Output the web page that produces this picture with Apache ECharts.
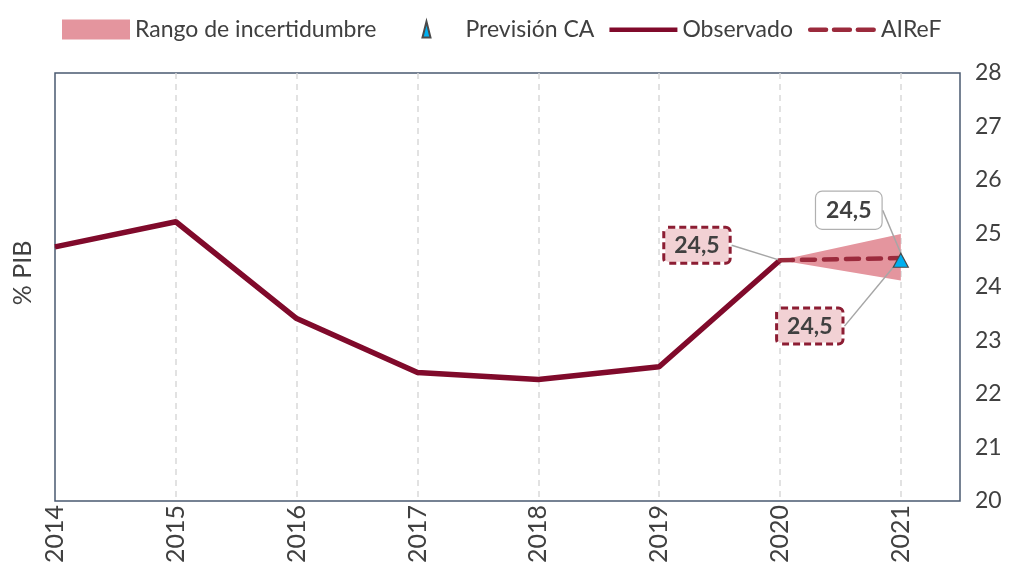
<!DOCTYPE html>
<html>
<head>
<meta charset="utf-8">
<script src="https://cdn.jsdelivr.net/npm/echarts@6/dist/echarts.min.js"></script>
<style>
  html, body { margin: 0; padding: 0; background: #fff; }
  #chart { width: 1015px; height: 571px; }
</style>
</head>
<body>
<div id="chart"></div>
<script>
// datos
const years = [2014, 2015, 2016, 2017, 2018, 2019, 2020, 2021];
const observado = [24.75, 25.22, 23.41, 22.40, 22.27, 22.51, 24.5];   // 2014-2020
const airef = [24.5, 24.54];                                           // 2020-2021
const rangoInf = [24.5, 24.12];                                        // 2020-2021
const rangoSup = [24.5, 24.99];
const prevision = [24.5];                                              // 2021
const yTicks = [20, 21, 22, 23, 24, 25, 26, 27, 28];

const FONT = 'Lato';
const TXT = '#404040';
const fmt = v => v.toFixed(1).replace('.', ',');

const boxLabel = {
  show: true,
  position: 'inside',
  formatter: p => fmt(p.value[1]),
  fontFamily: FONT,
  fontWeight: 'bold',
  fontSize: 23,
  color: TXT,
  backgroundColor: '#f2d1d4',
  borderColor: '#8c1d33',
  borderWidth: 3,
  borderType: [7, 4],
  borderRadius: 3,
  padding: [6, 9, 4, 9]
};
const guide = { show: true, lineStyle: { color: '#a6a6a6', width: 1.5 } };

const obsData = observado.map((v, i) => {
  const d = { value: [years[i], v] };
  if (i === observado.length - 1) d.label = boxLabel;
  return d;
});
const airefData = airef.map((v, i) => {
  const d = { value: [years[6 + i], v] };
  if (i === 1) d.label = boxLabel;
  return d;
});
// un tramo de banda: [x0, inf0, sup0, x1, inf1, sup1]
const bandData = [[years[6], rangoInf[0], rangoSup[0], years[7], rangoInf[1], rangoSup[1]]];

// iconos de leyenda (los M iniciales fijan la caja 68x20)
const iconLine = 'path://M0,0 M68,20 M0,8 h68 v4.5 h-68 z';
const iconDash = 'path://M0,0 M68,20 M2,8 h16 a2.2,2.2 0 0 1 0,4.5 h-16 a2.2,2.2 0 0 1 0,-4.5 z M26,8 h16 a2.2,2.2 0 0 1 0,4.5 h-16 a2.2,2.2 0 0 1 0,-4.5 z M50,8 h16 a2.2,2.2 0 0 1 0,4.5 h-16 a2.2,2.2 0 0 1 0,-4.5 z';
const iconTri = 'path://M0,0 M68,20 M30,18 L34,2 L38,18 z';

const chart = echarts.init(document.getElementById('chart'));
chart.setOption({
  animation: false,
  legend: {
    left: 57, top: 13,
    itemWidth: 68, itemHeight: 20, itemGap: 15,
    textStyle: { fontFamily: FONT, fontSize: 23, color: TXT },
    data: [
      { name: 'Rango de incertidumbre', icon: 'rect' },
      { name: 'Previsión CA', icon: iconTri },
      { name: 'Observado', icon: iconLine },
      { name: 'AIReF', icon: iconDash }
    ]
  },
  graphic: [{
    type: 'text', x: 23, y: 273, rotation: Math.PI / 2,
    style: { text: '% PIB', fontFamily: FONT, fontSize: 25, fill: TXT, align: 'center', verticalAlign: 'middle' }
  }],
  grid: {
    left: 55, right: 55, top: 73, bottom: 70,
    show: true, borderColor: '#4a5a70', borderWidth: 1.5
  },
  xAxis: {
    type: 'value', min: years[0], max: 2021.49, interval: 1,
    axisLine: { show: false }, axisTick: { show: false },
    splitLine: {
      show: true, showMinLine: false, showMaxLine: false,
      lineStyle: { color: '#d9d9d9', width: 1.5, type: [6, 5] }
    },
    axisLabel: {
      rotate: 90, margin: 4,
      fontFamily: FONT, fontSize: 25, color: TXT,
      formatter: v => Number.isInteger(v) ? String(v) : ''
    }
  },
  yAxis: {
    type: 'value', position: 'right',
    min: yTicks[0], max: yTicks[yTicks.length - 1], interval: 1,
    axisLine: { show: false }, axisTick: { show: false }, splitLine: { show: false },
    axisLabel: { margin: 15, fontFamily: FONT, fontSize: 23, color: TXT }
  },
  series: [
    {
      name: 'Rango de incertidumbre', type: 'custom',
      data: bandData,
      itemStyle: { color: '#e4959e' },
      renderItem: (params, api) => {
        const a = api.coord([api.value(0), api.value(1)]);
        const b = api.coord([api.value(3), api.value(4)]);
        const c = api.coord([api.value(3), api.value(5)]);
        const d = api.coord([api.value(0), api.value(2)]);
        return {
          type: 'polygon',
          shape: { points: [a, b, c, d] },
          style: { fill: '#e4959e' }
        };
      },
      z: 1
    },
    {
      name: 'Observado', type: 'line', color: '#800a2b',
      data: obsData,
      symbol: 'circle', symbolSize: 1,
      lineStyle: { width: 5.5, color: '#800a2b' },
      label: { show: false },
      labelLine: guide,
      labelLayout: { dx: -83, dy: -15 },
      z: 3
    },
    {
      name: 'AIReF', type: 'line', color: '#9b2a3c',
      data: airefData,
      symbol: 'circle', symbolSize: 1,
      lineStyle: { width: 4.5, type: [13, 9], cap: 'round', color: '#9b2a3c' },
      label: { show: false },
      labelLine: guide,
      labelLayout: { dx: -91, dy: 68 },
      z: 4
    },
    {
      name: 'Previsión CA', type: 'scatter',
      data: prevision.map(v => [years[7], v]),
      symbol: 'triangle', symbolSize: [15, 14],
      itemStyle: { color: '#00b0f0', borderColor: '#4a4a4a', borderWidth: 1.2, opacity: 1 },
      label: {
        show: true, position: 'inside',
        formatter: p => fmt(p.value[1]),
        fontFamily: FONT, fontWeight: 'bold', fontSize: 23, color: TXT,
        textBorderWidth: 0,
        backgroundColor: '#fff', borderColor: '#b0b0b0', borderWidth: 1.2,
        borderRadius: 6, padding: [8, 10, 6, 10]
      },
      labelLine: guide,
      labelLayout: { dx: -52, dy: -50 },
      z: 5
    }
  ]
});
</script>
</body>
</html>
